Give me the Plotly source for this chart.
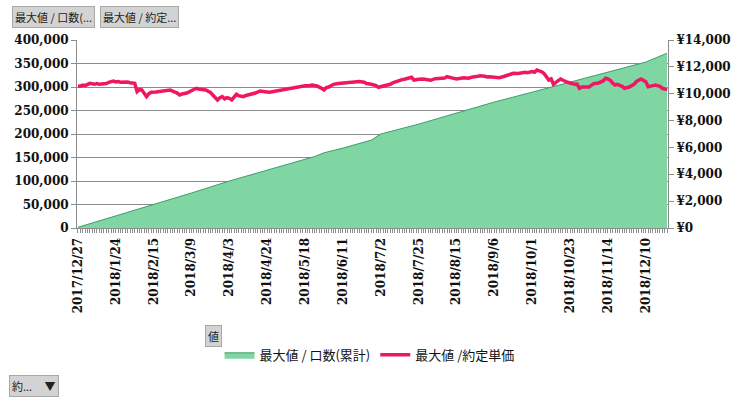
import plotly.graph_objects as go

# tick labels (trading-day categories, one label every 16 days)
tick_idx = [0, 16, 32, 48, 64, 80, 96, 112, 128, 144, 160, 176, 192, 208, 224, 240]
tick_labels = ["2017/12/27", "2018/1/24", "2018/2/15", "2018/3/9", "2018/4/3",
               "2018/4/24", "2018/5/18", "2018/6/11", "2018/7/2", "2018/7/25",
               "2018/8/15", "2018/9/6", "2018/10/1", "2018/10/23", "2018/11/14",
               "2018/12/10"]

# cumulative volume (left axis)
vol_idx = [0, 16, 32, 48, 64, 80, 96, 100, 104, 112, 124, 128, 144, 160, 176, 192, 208, 224, 240, 249]
vol_val = [1500, 25500, 49000, 74500, 100000, 123000, 145000, 152000, 160000, 170000,
           187000, 200000, 221000, 245000, 268000, 289000, 310000, 332000, 353000, 372000]

# max contract price (right axis)
price_idx = [0, 1, 2, 3, 5, 6, 7, 8, 9, 10, 12, 13, 15, 16, 17, 18, 19, 20, 21, 22, 23, 24,
             25, 26, 27, 28, 29, 30, 31, 33, 34, 36, 37, 38, 39, 40, 41, 42, 43, 44, 46, 48,
             50, 51, 52, 53, 54, 56, 57, 58, 59, 60, 61, 62, 63, 64, 65, 66, 67, 68, 70, 71,
             73, 75, 77, 78, 79, 81, 83, 85, 87, 89, 90, 92, 94, 96, 98, 99, 101, 102, 103,
             104, 105, 106, 108, 110, 112, 114, 116, 118, 119, 121, 122, 124, 126, 127, 128,
             129, 131, 132, 133, 135, 137, 138, 140, 141, 142, 143, 144, 146, 148, 149, 151,
             152, 154, 155, 156, 157, 158, 160, 161, 163, 165, 166, 167, 169, 170, 172, 173,
             174, 176, 178, 180, 181, 183, 184, 186, 187, 189, 190, 192, 193, 194, 195, 196,
             197, 198, 199, 200, 201, 202, 203, 204, 205, 206, 207, 208, 210, 211, 212, 213,
             215, 216, 218, 220, 222, 223, 224, 225, 226, 227, 228, 230, 231, 233, 235, 236,
             237, 238, 240, 241, 243, 244, 246, 247, 249]
price_val = [10574, 10560, 10640, 10600, 10775, 10720, 10700, 10760, 10700, 10720, 10760,
             10850, 10947, 10880, 10900, 10850, 10850, 10900, 10880, 10820, 10775, 10780,
             10150, 10300, 10277, 10050, 9780, 10000, 10105, 10130, 10150, 10180, 10200,
             10250, 10277, 10200, 10150, 10050, 9904, 9980, 10050, 10200, 10403, 10350,
             10350, 10300, 10277, 10100, 9900, 9700, 9532, 9700, 9780, 9620, 9703, 9650,
             9532, 9750, 9954, 9850, 9780, 9870, 9950, 10050, 10202, 10150, 10150, 10105,
             10180, 10250, 10320, 10403, 10380, 10480, 10540, 10600, 10620, 10649, 10580,
             10524, 10400, 10277, 10450, 10500, 10700, 10760, 10800, 10850, 10897, 10880,
             10900, 10850, 10760, 10700, 10600, 10477, 10520, 10550, 10599, 10700, 10800,
             10947, 11050, 11080, 11150, 11222, 11021, 11060, 11080, 11096, 11050, 11000,
             11120, 11148, 11200, 11170, 11267, 11200, 11180, 11096, 11150, 11193, 11148,
             11220, 11250, 11300, 11341, 11300, 11240, 11267, 11220, 11193, 11280, 11350,
             11450, 11520, 11500, 11540, 11595, 11560, 11650, 11600, 11766, 11700, 11640,
             11500, 11300, 11021, 11100, 10700, 10850, 11000, 11096, 11000, 10897, 10850,
             10800, 10700, 10720, 10403, 10500, 10524, 10500, 10750, 10800, 10950, 11148,
             11100, 11000, 10800, 10649, 10700, 10550, 10403, 10500, 10700, 10900, 11000,
             11096, 10900, 10524, 10600, 10649, 10550, 10403, 10300, 9904]

fig = go.Figure()
fig.add_trace(go.Scatter(
    x=vol_idx, y=vol_val, name="最大値 / 口数(累計)", mode="lines",
    fill="tozeroy", fillcolor="#80d6a3", line=dict(color="#3d9e6a", width=1),
    yaxis="y"))
fig.add_trace(go.Scatter(
    x=price_idx, y=price_val, name="最大値 /約定単価", mode="lines",
    line=dict(color="#ee1763", width=3.5), yaxis="y2"))

tickfont = dict(family="DejaVu Serif", size=12, color="#111111", weight="bold")

fig.update_layout(
    width=748, height=404,
    margin=dict(l=77, r=80, t=40, b=176),
    paper_bgcolor="white", plot_bgcolor="white",
    showlegend=True,
    legend=dict(orientation="h", x=0.495, xanchor="center", y=-0.675, yanchor="middle",
                font=dict(family="Noto Sans CJK JP", size=13, color="#111111"),
                itemwidth=30, tracegroupgap=0),
    xaxis=dict(range=[-0.4, 249.4], tickmode="array", tickvals=tick_idx, ticktext=tick_labels,
               tickangle=-90, tickfont=tickfont, showgrid=False, zeroline=False,
               showline=True, linecolor="#8c8c8c", linewidth=1,
               ticks="outside", ticklen=4, tickcolor="#8c8c8c",
               minor=dict(ticks="outside", tickmode="linear", tick0=0, dtick=1,
                          ticklen=4, tickcolor="#8c8c8c", showgrid=False)),
    yaxis=dict(range=[0, 400000], dtick=50000, tickformat=",", tickfont=tickfont,
               showgrid=True, gridcolor="#8c8c8c", gridwidth=1, zeroline=False,
               showline=True, linecolor="#8c8c8c", ticks="outside", ticklen=5,
               tickcolor="#8c8c8c"),
    yaxis2=dict(range=[0, 14000], dtick=2000, tickformat=",", tickprefix="¥",
                tickfont=tickfont, overlaying="y", side="right", showgrid=False,
                zeroline=False, showline=True, linecolor="#8c8c8c", ticks="outside",
                ticklen=5, tickcolor="#8c8c8c"),
)

btn_font = dict(family="Noto Sans CJK JP", size=11, color="#222222")
buttons = [
    ("最大値 / 口数(...", 12, 17),
    ("最大値 / 約定...", 100, 17),
]
for txt, px, py in buttons:
    fig.add_annotation(text=txt, xref="paper", yref="paper",
                       x=(px - 77) / 591, y=(228 - py) / 188, xanchor="left", yanchor="middle",
                       showarrow=False, font=btn_font, bgcolor="#d3d3d3",
                       bordercolor="#a8a8a8", borderwidth=1, borderpad=2)
fig.add_annotation(text="値", xref="paper", yref="paper",
                   x=(205 - 77) / 591, y=(228 - 336) / 188, xanchor="left", yanchor="middle",
                   showarrow=False, font=btn_font, bgcolor="#d3d3d3",
                   bordercolor="#a8a8a8", borderwidth=1, borderpad=2)
fig.add_annotation(text="約...&nbsp;&nbsp;&nbsp;&nbsp;&nbsp;▼", xref="paper", yref="paper",
                   x=(9 - 77) / 591, y=(228 - 386) / 188, xanchor="left", yanchor="middle",
                   showarrow=False, font=btn_font, bgcolor="#d3d3d3",
                   bordercolor="#a8a8a8", borderwidth=1, borderpad=2)

fig.write_html("out.html")
